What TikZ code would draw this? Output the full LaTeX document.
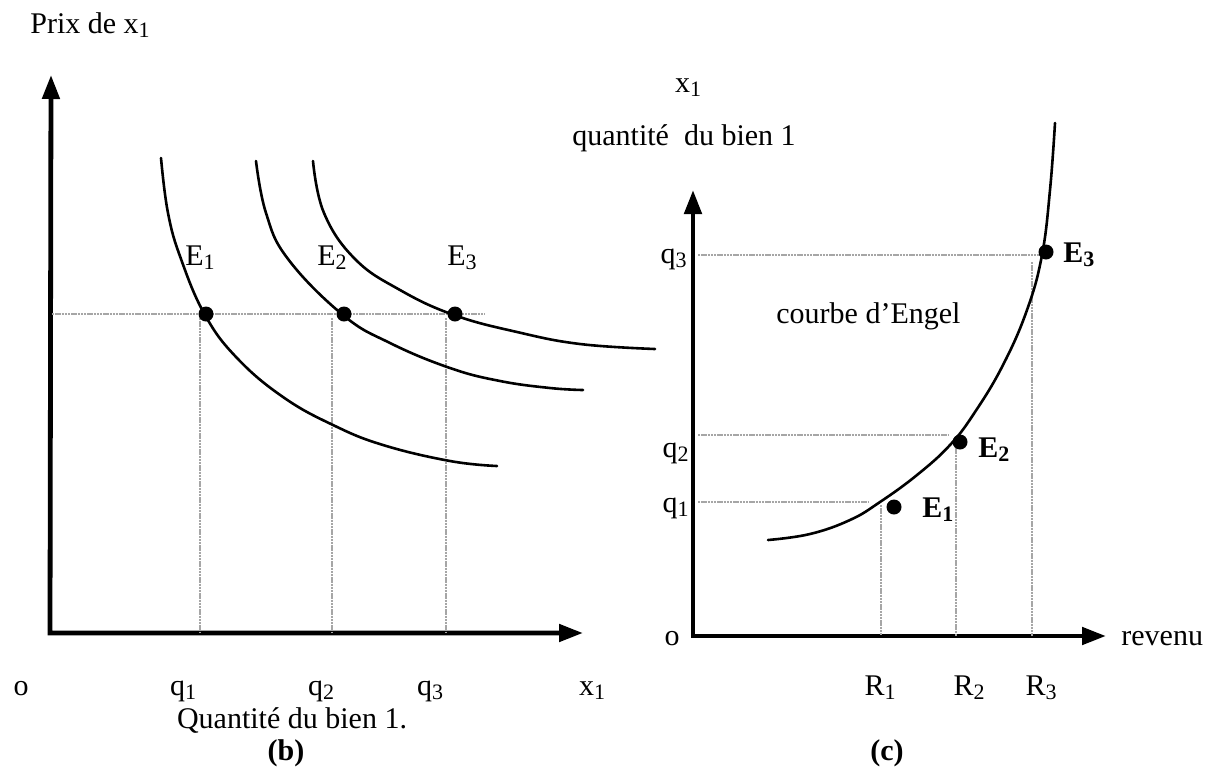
\documentclass[tikz,border=0pt]{standalone}
\usepackage{fontspec}
\setmainfont{Liberation Serif}
\usetikzlibrary{arrows.meta}
\newcommand{\ind}[1]{\raisebox{-0.35ex}{\fontsize{11}{11}\selectfont #1}}
\begin{document}
\begin{tikzpicture}[x=0.5pt,y=-0.5pt,
  every node/.style={font=\fontsize{15}{18}\selectfont, inner sep=0pt},
  lbl/.style={anchor=base},
  axisline/.style={line width=2.4pt, {Triangle[length=12pt,width=8.5pt]}-{Triangle[length=12pt,width=8.5pt]}},
  curveline/.style={line width=1.3pt, line cap=round},
  guide/.style={line width=0.6pt, gray!70, dash pattern=on 1.2pt off 0.4pt},
  dotpt/.style={circle, fill=black, minimum size=7.5pt, inner sep=0pt}]
\useasboundingbox (0,0) rectangle (1226,777);
% ---------- left panel (b) ----------
\coordinate (Ltop) at (51,75);
\coordinate (Lo) at (50,633);
\coordinate (Lend) at (583,633);
\draw[axisline] (Ltop) -- (Lo) -- (Lend);
% guides
\coordinate (Hl) at (52,314);
\coordinate (Hr) at (485,314);
\draw[guide] (Hl) -- (Hr);
\coordinate (V1t) at (200,318); \coordinate (V1b) at (200,633);
\coordinate (V2t) at (332,318); \coordinate (V2b) at (332,633);
\coordinate (V3t) at (446,318); \coordinate (V3b) at (446,633);
\draw[guide] (V1t) -- (V1b);
\draw[guide] (V2t) -- (V2b);
\draw[guide] (V3t) -- (V3b);
% curves
\draw[curveline] plot[smooth, tension=0.7] coordinates {(161,158) (168,213) (181,259) (205,315) (237,358) (283,397) (333,425) (383,445) (450,461) (497,466)};
\draw[curveline] plot[smooth, tension=0.7] coordinates {(256,161) (266,213) (288,259) (343,315) (390,343) (450,368) (500,381) (550,388) (583,390)};
\draw[curveline] plot[smooth, tension=0.7] coordinates {(313,161) (324,213) (355,259) (400,290) (454,315) (517,332) (580,344) (655,349)};
\node[dotpt] (e1) at (206,314) {};
\node[dotpt] (e2) at (344,314) {};
\node[dotpt] (e3) at (455,314) {};
\node[lbl] (le1) at (200,265) {E\ind{1}};
\node[lbl] (le2) at (332,265) {E\ind{2}};
\node[lbl] (le3) at (462,265) {E\ind{3}};
\node[anchor=base west] (prix) at (30,33) {Prix de x\ind{1}};
\node[lbl] (o1) at (21,695) {o};
\node[lbl] (q1) at (183,695) {q\ind{1}};
\node[lbl] (q2) at (321,695) {q\ind{2}};
\node[lbl] (q3) at (430,695) {q\ind{3}};
\node[lbl] (x1) at (592,695) {x\ind{1}};
\node[lbl] (qb) at (292,728) {Quantité du bien 1.};
\node[lbl] (b) at (286,760) {\textbf{(b)}};
% ---------- right panel (c) ----------
\coordinate (Rtop) at (693,190);
\coordinate (Ro) at (693,636);
\coordinate (Rend) at (1106,636);
\draw[axisline] (Rtop) -- (Ro) -- (Rend);
\coordinate (h3l) at (698,255); \coordinate (h3r) at (1040,255);
\coordinate (h2l) at (698,435); \coordinate (h2r) at (948,435);
\coordinate (h1l) at (698,502); \coordinate (h1r) at (868,502);
\draw[guide] (h3l) -- (h3r);
\draw[guide] (h2l) -- (h2r);
\draw[guide] (h1l) -- (h1r);
\coordinate (w1t) at (881,505); \coordinate (w1b) at (881,636);
\coordinate (w2t) at (956,445); \coordinate (w2b) at (956,636);
\coordinate (w3t) at (1032,262); \coordinate (w3b) at (1032,636);
\draw[guide] (w1t) -- (w1b);
\draw[guide] (w2t) -- (w2b);
\draw[guide] (w3t) -- (w3b);
\draw[curveline] plot[smooth, tension=0.7] coordinates {(768,540) (810,534) (850,520) (880,502) (917,475) (950,445) (975,412) (1003,365) (1027,310) (1042,255) (1050,190) (1055,123)};
\node[dotpt] (f1) at (894,507) {};
\node[dotpt] (f2) at (960,442) {};
\node[dotpt] (f3) at (1046,252) {};
\node[anchor=base west] (lf1) at (922,517) {\textbf{E}\ind{\textbf{1}}};
\node[anchor=base west] (lf2) at (978,457) {\textbf{E}\ind{\textbf{2}}};
\node[anchor=base west] (lf3) at (1063,262) {\textbf{E}\ind{\textbf{3}}};
\node[lbl] (x1r) at (688,92) {x\ind{1}};
\node[anchor=base west] (qdb) at (572,145) {quantité\ \ du bien 1};
\node[anchor=base east] (rq3) at (687,263) {q\ind{3}};
\node[anchor=base east] (rq2) at (689,457) {q\ind{2}};
\node[anchor=base east] (rq1) at (689,512) {q\ind{1}};
\node[anchor=base west] (engel) at (776,323) {courbe d'Engel};
\node[lbl] (o2) at (672,645) {o};
\node[anchor=base west] (rev) at (1121,645) {revenu};
\node[lbl] (r1) at (880,695) {R\ind{1}};
\node[lbl] (r2) at (969,695) {R\ind{2}};
\node[lbl] (r3) at (1041,695) {R\ind{3}};
\node[lbl] (c) at (887,760) {\textbf{(c)}};
\end{tikzpicture}
\end{document}
